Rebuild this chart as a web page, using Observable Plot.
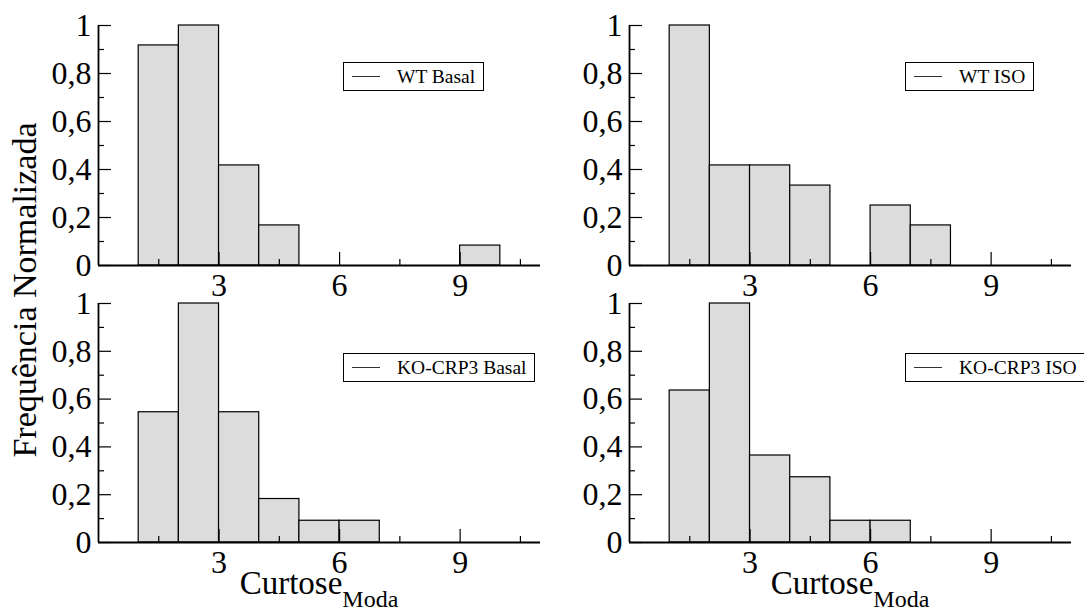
<!DOCTYPE html>
<html><head><meta charset="utf-8">
<script src="https://cdn.jsdelivr.net/npm/d3@7"></script>
<script src="https://cdn.jsdelivr.net/npm/@observablehq/plot@0.6"></script>
<style>
html,body{margin:0;padding:0;background:#fff;}
#chart{position:relative;width:1084px;height:612px;overflow:hidden;font-family:"Liberation Serif","Times New Roman",serif;color:#000;}
.panel{position:absolute;}
.legend{position:absolute;box-sizing:border-box;border:1px solid #000;height:29px;padding:0 8px 0 53px;font-size:19.5px;line-height:19.5px;white-space:nowrap;background:#fff;}
.legend .ln{position:absolute;left:8px;top:13px;width:28px;border-top:1px solid #333;}
.legend .tx{display:inline-block;margin-top:4px;}
#titles{position:absolute;left:0;top:0;pointer-events:none;}
</style>
</head><body>
<div id="chart"></div>
<script>
// ---- data ----
const binStarts = [1, 2, 3, 4, 5, 6, 7, 8, 9];
const binWidth = 1;
const wtBasal  = [0.917, 1, 0.417, 0.167, 0, 0, 0, 0, 0.083];
const wtIso    = [1, 0.417, 0.417, 0.333, 0, 0.25, 0.167, 0, 0];
const koBasal  = [0.545, 1, 0.545, 0.182, 0.091, 0.091, 0, 0, 0];
const koIso    = [0.636, 1, 0.364, 0.273, 0.091, 0.091, 0, 0, 0];
const seriesNames = ["WT Basal", "WT ISO", "KO-CRP3 Basal", "KO-CRP3 ISO"];
const xMajorTicks = [3, 6, 9];
const xMinorTicks = [1.5, 4.5, 7.5, 10.5];
const yMajorTicks = [0, 0.2, 0.4, 0.6, 0.8, 1];
const yMinorTicks = [0.1, 0.3, 0.5, 0.7, 0.9];
const xDomain = [0, 11];
const yDomain = [0, 1];
const xTitle = "Curtose";
const xTitleSub = "Moda";
const yTitle = "Frequência Normalizada";

const SERIF = '"Liberation Serif","Times New Roman",serif';
const chart = document.getElementById("chart");
const fmtY = d => String(d).replace(".", ",");

function makePanel(values, name, pos) {
  const table = binStarts.map((s, i) => ({x1: s, x2: s + binWidth, y: values[i]}));
  const svg = Plot.plot({
    width: pos.w, height: pos.h,
    marginLeft: pos.mL, marginRight: pos.mR, marginTop: pos.mT, marginBottom: pos.mB,
    x: {domain: xDomain, label: null},
    y: {domain: yDomain, label: null},
    style: {fontFamily: SERIF, fontSize: "32px", color: "#000", background: "transparent", overflow: "visible"},
    marks: [
      Plot.rect(table, {x1: "x1", x2: "x2", y1: 0, y2: "y", fill: "#dcdcdc", stroke: "#000", strokeWidth: 1.2}),
      Plot.ruleY([0], {stroke: "#000", strokeWidth: 2}),
      Plot.ruleX([0], {stroke: "#000", strokeWidth: 1.8}),
      Plot.axisX({ticks: xMajorTicks, tickSize: -13, tickPadding: 21, strokeWidth: 1.2, fontSize: 32, fontFamily: SERIF, tickFormat: d => String(d), label: null}),
      Plot.axisX({ticks: xMinorTicks, tickSize: -6, strokeWidth: 1.2, tickFormat: () => "", label: null}),
      Plot.axisY({ticks: yMajorTicks, tickSize: -13, tickPadding: 20, strokeWidth: 1.2, fontSize: 32, fontFamily: SERIF, tickFormat: fmtY, label: null}),
      Plot.axisY({ticks: yMinorTicks, tickSize: -6, strokeWidth: 1.2, tickFormat: () => "", label: null})
    ]
  });
  const wrap = document.createElement("div");
  wrap.className = "panel";
  wrap.style.left = pos.left + "px";
  wrap.style.top = pos.top + "px";
  wrap.appendChild(svg);
  chart.appendChild(wrap);

  const lg = document.createElement("div");
  lg.className = "legend";
  lg.style.left = pos.lgLeft + "px";
  lg.style.top = pos.lgTop + "px";
  lg.innerHTML = '<span class="ln"></span><span class="tx"></span>';
  lg.querySelector(".tx").textContent = name;
  chart.appendChild(lg);
}

const layouts = [
  {left: 0,   top: 0,   w: 560, h: 300, mL: 98, mR: 20, mT: 25, mB: 35, lgLeft: 343, lgTop: 62},
  {left: 530, top: 0,   w: 554, h: 300, mL: 99, mR: 13, mT: 25, mB: 35, lgLeft: 905, lgTop: 62},
  {left: 0,   top: 280, w: 560, h: 300, mL: 98, mR: 20, mT: 23, mB: 38, lgLeft: 343, lgTop: 353},
  {left: 530, top: 280, w: 554, h: 300, mL: 99, mR: 13, mT: 23, mB: 38, lgLeft: 905, lgTop: 353}
];
[wtBasal, wtIso, koBasal, koIso].forEach((v, i) => makePanel(v, seriesNames[i], layouts[i]));

// axis titles
const ns = "http://www.w3.org/2000/svg";
const t = document.createElementNS(ns, "svg");
t.setAttribute("id", "titles");
t.setAttribute("width", 1084);
t.setAttribute("height", 612);
function addXTitle(cx) {
  const tx = document.createElementNS(ns, "text");
  tx.setAttribute("x", cx);
  tx.setAttribute("y", 594);
  tx.setAttribute("text-anchor", "middle");
  tx.setAttribute("font-family", SERIF);
  tx.setAttribute("font-size", 33);
  tx.appendChild(document.createTextNode(xTitle));
  const sub = document.createElementNS(ns, "tspan");
  sub.setAttribute("font-size", 24);
  sub.setAttribute("dy", 13);
  sub.textContent = xTitleSub;
  tx.appendChild(sub);
  t.appendChild(tx);
}
addXTitle(319);
addXTitle(850);
const yt = document.createElementNS(ns, "text");
yt.setAttribute("transform", "translate(36,290) rotate(-90)");
yt.setAttribute("text-anchor", "middle");
yt.setAttribute("font-family", SERIF);
yt.setAttribute("font-size", 34);
yt.textContent = yTitle;
t.appendChild(yt);
chart.appendChild(t);
</script>
</body></html>
